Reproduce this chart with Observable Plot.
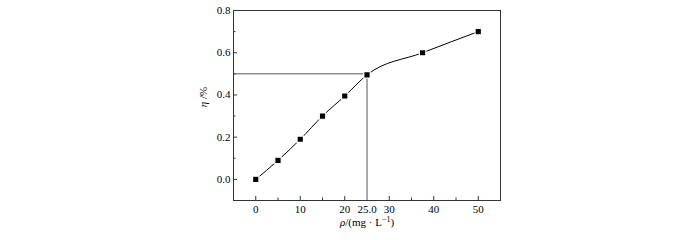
<!DOCTYPE html>
<html>
<head>
<meta charset="utf-8">
<script src="https://cdn.jsdelivr.net/npm/d3@7"></script>
<script src="https://cdn.jsdelivr.net/npm/@observablehq/plot@0.6"></script>
<style>
  body { margin: 0; background: #fff; }
  svg, svg text { font-family: "Liberation Serif", serif !important; }
</style>
</head>
<body>
<div id="chart"></div>
<script>
const conc = [0, 5, 10, 15, 20, 25, 37.5, 50];
const eta = [0.0, 0.09, 0.19, 0.30, 0.395, 0.495, 0.60, 0.70];
const xTickLabels = [0, 10, 20, 25, 30, 40, 50];
const xMinorTicks = [5, 15, 35, 45];
const yTickLabels = [0.0, 0.2, 0.4, 0.6, 0.8];
const yMinorTicks = [-0.1, 0.1, 0.3, 0.5, 0.7];
const refX = 25, refY = 0.5;

const data = conc.map((c, i) => ({c, e: eta[i]}));
const blank = () => "";
const serif = '"Liberation Serif", serif';

const plot = Plot.plot({
  width: 700,
  height: 240,
  marginLeft: 233,
  marginRight: 200,
  marginTop: 10,
  marginBottom: 40,
  style: {fontFamily: serif, fontSize: "11px", background: "#fff", color: "#000"},
  x: {domain: [-5, 55], label: null},
  y: {domain: [-0.1, 0.8], label: null},
  marks: [
    Plot.ruleY([refY], {x1: -5, x2: refX, stroke: "#555", strokeWidth: 1}),
    Plot.ruleX([refX], {y1: -0.1, y2: refY, stroke: "#555", strokeWidth: 1}),
    Plot.line(data, {x: "c", y: "e", curve: "monotone-x", stroke: "#000", strokeWidth: 1}),
    Plot.dot(data, {x: "c", y: "e", symbol: "square", r: 3.6, fill: "#000", stroke: "#fff", strokeWidth: 1.2}),
    Plot.axisX({ticks: xTickLabels.filter(d => d !== 25), tickSize: 4, dy: -4, stroke: "#333", tickFormat: blank, label: null}),
    Plot.axisX({ticks: xMinorTicks, tickSize: 2.5, dy: -2.5, stroke: "#333", tickFormat: blank, label: null}),
    Plot.axisX({ticks: xTickLabels, tickSize: 0, tickPadding: 5, tickFormat: d => d === 25 ? "25.0" : String(d), fill: "#000", label: null}),
    Plot.axisY({ticks: yTickLabels, tickSize: 4, dx: 4, stroke: "#333", tickFormat: blank, label: null}),
    Plot.axisY({ticks: yMinorTicks, tickSize: 2.5, dx: 2.5, stroke: "#333", tickFormat: blank, label: null}),
    Plot.axisY({ticks: yTickLabels, tickSize: 0, tickPadding: 3, tickFormat: d => d.toFixed(1), fill: "#000", label: null}),
    Plot.frame({stroke: "#333", strokeWidth: 1})
  ]
});

const svg = d3.select(plot);
const yl = svg.append("text")
  .attr("transform", "translate(207,97) rotate(-90)")
  .attr("text-anchor", "middle")
  .attr("font-size", 11)
  .attr("fill", "#000");
yl.append("tspan").attr("font-style", "italic").text("η");
yl.append("tspan").text(" /%");
const xl = svg.append("text")
  .attr("x", 367).attr("y", 226)
  .attr("text-anchor", "middle")
  .attr("font-size", 11)
  .attr("fill", "#000");
xl.append("tspan").attr("font-style", "italic").text("ρ");
xl.append("tspan").text("/(mg · L");
xl.append("tspan").attr("font-size", 8).attr("dy", -4).text("−1");
xl.append("tspan").attr("dy", 4).text(")");

document.getElementById("chart").appendChild(plot);
</script>
</body>
</html>
